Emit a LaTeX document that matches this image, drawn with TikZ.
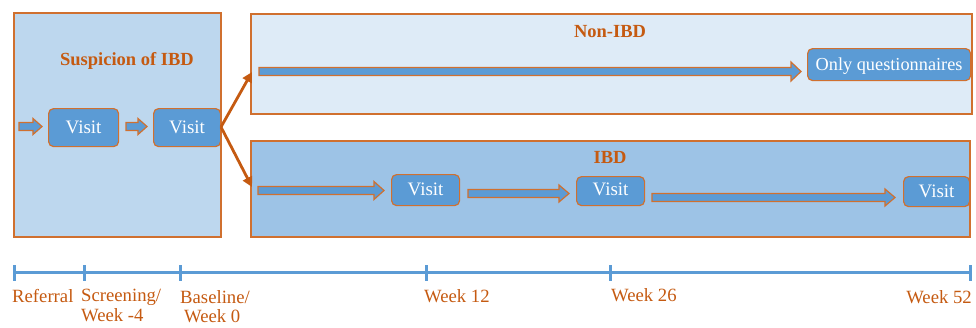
\documentclass[tikz,border=0pt]{standalone}
\usepackage{fontspec}
\setmainfont{Liberation Serif}
\usetikzlibrary{arrows.meta}
\definecolor{borange}{HTML}{D0702F}
\definecolor{torange}{HTML}{C55A11}
\definecolor{vblue}{HTML}{5B9BD5}
\definecolor{lblue}{HTML}{BDD7EE}
\definecolor{pblue}{HTML}{DEEBF7}
\definecolor{mblue}{HTML}{9DC3E6}
\tikzset{
  panel/.style={draw=borange, line width=1.2pt},
  visitbox/.style={draw=borange, fill=vblue, line width=1.2pt, rounded corners=5pt, inner sep=0pt, anchor=north west},
  vtext/.style={text=white, font=\fontsize{19}{21}\selectfont},
  ptitle/.style={text=torange, font=\bfseries\fontsize{18.5}{21}\selectfont},
  tlabel/.style={text=torange, font=\fontsize{18.7}{19.5}\selectfont, align=left, anchor=north west, inner sep=0pt},
  blockarrow/.style={draw=borange, fill=vblue, line width=1.2pt, line join=miter},
  diag/.style={draw=torange, line width=2.8pt, -{Triangle[length=10pt,width=10pt]}},
  axis/.style={draw=vblue, line width=3pt},
}
% block arrow: x1, x2, y, shaft half height, head half height, head length
\newcommand{\blockarr}[6]{%
  \draw[blockarrow] (#1,#3-#4) -- (#2-#6,#3-#4) -- (#2-#6,#3-#5) -- (#2,#3) -- (#2-#6,#3+#5) -- (#2-#6,#3+#4) -- (#1,#3+#4) -- cycle;}
\begin{document}
\begin{tikzpicture}[x=1pt,y=-1pt]
\useasboundingbox (0,0) rectangle (976,327);
% panels
\draw[panel, fill=lblue] (14,13) rectangle (221,237);
\draw[panel, fill=pblue] (251,14) rectangle (972,114);
\draw[panel, fill=mblue] (251,141) rectangle (970,237);
\node[ptitle] (tsus) at (127,61) {Suspicion of IBD};
\node[ptitle] (tnon) at (610,32) {Non-IBD};
\node[ptitle] (tibd) at (610,157) {IBD};
% visit boxes
\node[visitbox, minimum width=70pt, minimum height=38pt] (v1) at (48,108) {};
\node[vtext] at (v1.center) {Visit};
\node[visitbox, minimum width=67pt, minimum height=38pt] (v2) at (153,108) {};
\node[vtext] at (v2.center) {Visit};
\node[visitbox, minimum width=163pt, minimum height=32pt] (oq) at (807,48) {};
\node[vtext, font=\fontsize{18.3}{21}\selectfont] at ([yshift=-2pt]oq.center) {Only questionnaires};
\node[visitbox, minimum width=68pt, minimum height=31pt] (v3) at (391,174) {};
\node[vtext, yshift=1pt] at (v3.center) {Visit};
\node[visitbox, minimum width=68pt, minimum height=29pt] (v4) at (576,176) {};
\node[vtext, yshift=2pt] at (v4.center) {Visit};
\node[visitbox, minimum width=66pt, minimum height=30pt] (v5) at (903,176) {};
\node[vtext] at (v5.center) {Visit};
% block arrows
\blockarr{19}{42}{126.5}{4}{8}{9}
\blockarr{126}{147}{126.5}{4}{8}{9}
\blockarr{259}{801}{71.5}{4}{9.5}{10}
\blockarr{258}{384}{190.5}{4}{9}{10}
\blockarr{468}{569}{193.5}{4}{8.5}{10}
\blockarr{652}{895}{197.5}{4}{8.5}{10}
% diagonal arrows
\coordinate (split) at (221,127);
\coordinate (upend) at (252,72);
\coordinate (downend) at (252,187);
\draw[diag] (split) -- (upend);
\draw[diag] (split) -- (downend);
% timeline
\coordinate (t0) at (14,272);
\coordinate (t5) at (970,272);
\draw[axis] (t0) -- (t5);
\foreach \x in {14,84,180,426,610,970}{
  \draw[axis] (\x,265) -- (\x,281);
}
\node[tlabel] (l1) at (12,289) {Referral};
\node[tlabel] (l2) at (81,289) {Screening/\\Week -4};
\node[tlabel] (l3) at (180,290) {Baseline/\\\hspace*{4pt}Week 0};
\node[tlabel] (l4) at (424,289) {Week 12};
\node[tlabel] (l5) at (611,288) {Week 26};
\node[tlabel, anchor=north east] (l6) at (972,290) {Week 52};
\end{tikzpicture}
\end{document}
